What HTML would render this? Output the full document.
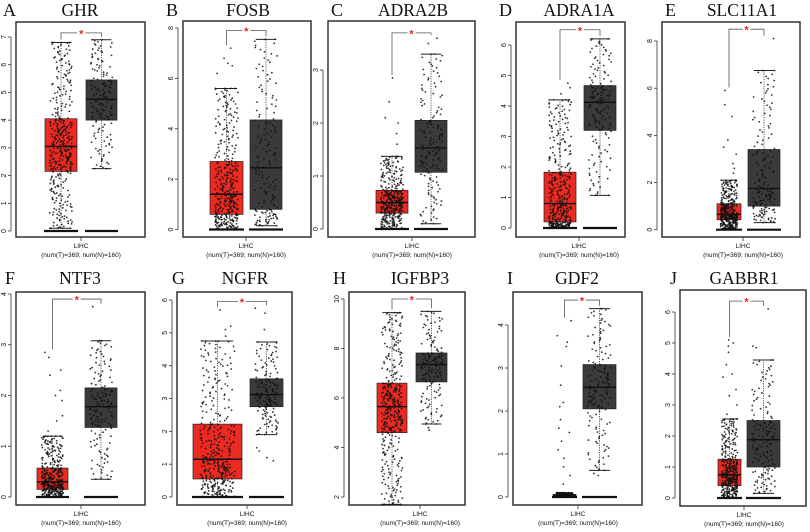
<!DOCTYPE html>
<html><head><meta charset="utf-8"><style>
body{margin:0;background:#fff}
svg{display:block}
</style></head><body>
<svg id="fig" width="810" height="532" viewBox="0 0 810 532" xmlns="http://www.w3.org/2000/svg"></svg>
<script>
// ---- data ----
const panelLetters = ["A","B","C","D","E","F","G","H","I","J"];
const geneNames = ["GHR","FOSB","ADRA2B","ADRA1A","SLC11A1","NTF3","NGFR","IGFBP3","GDF2","GABBR1"];
const tickValues = [[0,1,2,3,4,5,6,7],[0,2,4,6,8],[0,1,2,3],[0,1,2,3,4,5,6],[0,2,4,6,8],[0,1,2,3,4],[0,1,2,3,4,5,6],[2,4,6,8,10],[0,1,2,3,4],[0,1,2,3,4,5,6]];
// [whiskerLow, q1, median, q3, whiskerHigh]
const tumorStats = [[0.1,2.15,3.05,4.05,6.8],[0,0.6,1.4,2.7,5.6],[0,0.3,0.5,0.73,1.37],[0,0.2,0.8,1.83,4.2],[0.05,0.42,0.65,1.1,2.1],[0,0.15,0.3,0.57,1.2],[0,0.55,1.15,2.22,4.75],[1.7,4.6,5.65,6.6,9.45],[0,0.02,0.04,0.06,0.1],[0,0.4,0.75,1.25,2.55]];
const normalStats = [[2.25,4.0,4.75,5.45,6.9],[0.15,0.8,2.45,4.35,7.55],[0.1,1.07,1.53,2.05,3.3],[1.07,3.2,4.12,4.67,6.2],[0.3,1.0,1.75,3.4,6.75],[0.35,1.37,1.78,2.15,3.08],[1.9,2.75,3.12,3.6,4.72],[4.95,6.65,7.35,7.82,9.5],[0.62,2.05,2.55,3.08,4.38],[0.15,1.0,1.88,2.5,4.45]];
const tumorOutliers = [[],[6.2,6.5,6.6,6.8,7.2],[1.6,1.8,2.0,2.1,2.4,2.85],[4.4,4.6,4.75],[2.4,2.6,2.8,3.2,3.5,3.8,4.8,5.3,5.9],[1.3,1.5,1.6,1.9,2.0,2.1,2.4,2.5,2.75,2.85],[4.9,5.1,5.2,5.7],[],[0.3,0.5,0.7,0.9,1.1,1.3,1.5,1.6,1.8,2.1,2.2,2.6,3.05,3.5,3.6,3.75,4.1],[2.7,3.0,3.3,3.5,3.9,4.0,4.3,4.7,4.9,5.0,5.1]];
const normalOutliers = [[],[],[3.5,3.6],[],[8.1],[3.75],[1.1,1.2,1.4,1.5,5.1,5.6,5.75],[4.7,4.8],[0.5,0.55],[4.85,4.9,6.1]];
const hasZeroBar = [true,true,true,true,true,true,true,false,true,true];
const bracketLevel = [7.15,7.9,3.7,6.5,8.5,3.9,5.95,10.0,4.58,6.35];
const tumorCount = 369, normalCount = 160;
// ---- layout ----
const frames = [[16,22,145,237],[183,21,311,237],[328,21,475,237],[516,22,625,237],[662,22,800,237],[16,292,145,505],[177,292,292,505],[349,292,465,505],[513,292,642,505],[680,290,806,506]];
const tickPix = [[231,37],[229.5,28],[229,70],[228,45],[229.7,41],[497,294],[497,300],[497,299],[497,325],[498,312]];
const redBox = [[45,77],[210,243],[376,408],[544,576],[717,741],[37,68],[193,242],[377,407],[553,576],[718,741]];
const darkBox = [[86,117],[250,282],[415,447],[584,616],[748,780],[85,117],[250,283],[416,447],[583,616],[747,780]];
const letterX = [3,166,331,499,665,5,172,333,507,670];
const titleX = [80,248,413,579,742,80,245,420,577,744];
const centerTick = [81,246,412,579,743,81,247,420,578,744];

const NS="http://www.w3.org/2000/svg";
const svg=document.getElementById('fig');
function mk(tag,attrs,parent){const e=document.createElementNS(NS,tag);for(const k in attrs)e.setAttribute(k,attrs[k]);(parent||svg).appendChild(e);return e;}
function hash(i,s){const v=Math.sin(i*12.9898+s*78.233)*43758.5453;return v-Math.floor(v);}
function quant(st,u){const ks=[0.01,0.25,0.5,0.75,0.99];if(u<=ks[0])return st[0];if(u>=ks[4])return st[4];for(let k=0;k<4;k++){if(u<=ks[k+1]){const t=(u-ks[k])/(ks[k+1]-ks[k]);return st[k]+t*(st[k+1]-st[k]);}}return st[4];}

for(let p=0;p<10;p++){
  const g=mk('g',{});
  
  
  const [fx0,fy0,fx1,fy1]=frames[p];
  const tv=tickValues[p];const [pa,pb]=tickPix[p];
  const v0=tv[0],v1=tv[tv.length-1];
  const Y=v=>pa+(v-v0)*(pb-pa)/(v1-v0);
  const row2=p>=5;
  const lt=mk('text',{x:letterX[p],y:row2?284:16,'font-family':'Liberation Serif, serif','font-size':18,fill:'#111'},g);lt.textContent=panelLetters[p];
  
  const tt=mk('text',{x:titleX[p],y:row2?284:16,'font-family':'Liberation Serif, serif','font-size':17.5,fill:'#111','text-anchor':'middle'},g);tt.textContent=geneNames[p];
  
  const fr=mk('rect',{x:fx0,y:fy0,width:fx1-fx0,height:fy1-fy0,fill:'none',stroke:'#333','stroke-width':1.5},g);
  
  const ax=mk('line',{x1:fx0-5,x2:fx0-5,y1:Y(v0),y2:Y(v1),stroke:'#333','stroke-width':0.8},g);
  
  tv.forEach(v=>{
    mk('line',{x1:fx0-8,x2:fx0-5,y1:Y(v),y2:Y(v),stroke:'#333','stroke-width':0.8},g);
    const t=mk('text',{x:0,y:0,'font-family':'Liberation Sans, sans-serif','font-size':7,fill:'#111','text-anchor':'middle',transform:`translate(${fx0-10},${Y(v)}) rotate(-90)`},g);
    t.textContent=v;
  });
  mk('line',{x1:centerTick[p],x2:centerTick[p],y1:fy1,y2:fy1+4,stroke:'#333','stroke-width':0.8},g);
  const l1=mk('text',{x:centerTick[p],y:fy1+11,'font-family':'Liberation Sans, sans-serif','font-size':6.5,fill:'#111','text-anchor':'middle'},g);l1.textContent='LIHC';
  
  const l2=mk('text',{x:centerTick[p],y:fy1+20,'font-family':'Liberation Sans, sans-serif','font-size':6.5,fill:'#111','text-anchor':'middle'},g);l2.textContent='(num(T)=369; num(N)=160)';
  
  const groups=[[tumorStats[p],redBox[p],'#ec2a22',tumorOutliers[p],tumorCount,'tumor'],[normalStats[p],darkBox[p],'#3a3a3a',normalOutliers[p],normalCount,'normal']];
  const tops=[];
  groups.forEach(([st,bx,col,outs,n,nm],gi)=>{
    const cx=(bx[0]+bx[1])/2,w=bx[1]-bx[0];
    mk('line',{x1:cx,x2:cx,y1:Y(st[3]),y2:Y(st[4]),stroke:'#333','stroke-width':0.8,'stroke-dasharray':'1.2,1.2'},g);
    mk('line',{x1:cx,x2:cx,y1:Y(st[1]),y2:Y(st[0]),stroke:'#333','stroke-width':0.8,'stroke-dasharray':'1.2,1.2'},g);
    mk('line',{x1:cx-w*0.32,x2:cx+w*0.32,y1:Y(st[4]),y2:Y(st[4]),stroke:'#222','stroke-width':1},g);
    mk('line',{x1:cx-w*0.32,x2:cx+w*0.32,y1:Y(st[0]),y2:Y(st[0]),stroke:'#222','stroke-width':1},g);
    const r=mk('rect',{x:bx[0],y:Y(st[3]),width:w,height:Math.max(1,Y(st[1])-Y(st[3])),fill:col,stroke:'#222','stroke-width':0.7},g);
    
    mk('line',{x1:bx[0],x2:bx[1],y1:Y(st[2]),y2:Y(st[2]),stroke:'#111','stroke-width':1.4},g);
    if(hasZeroBar[p]){const z=mk('line',{x1:bx[0]-1,x2:bx[1]+1,y1:Y(0),y2:Y(0),stroke:'#111','stroke-width':2.2},g);
      }
    const pts=[];
    for(let i=0;i<n;i++){pts.push(quant(st,(i+0.5)/n));}
    outs.forEach(v=>pts.push(v));
    pts.forEach((v,i)=>{
      const jx=cx+(hash(i,p*7+gi)-0.5)*w*0.7;
      const c=mk('circle',{cx:jx,cy:Y(v),r:0.9,fill:'#111','fill-opacity':0.85},g);
      
      
    });
    tops.push([cx,Math.max(st[4],...(outs.length?outs:[st[4]]))]);
  });
  const by=Y(bracketLevel[p]);
  const br=mk('path',{d:`M${tops[0][0]},${Y(tops[0][1])-3} L${tops[0][0]},${by} L${tops[1][0]},${by} L${tops[1][0]},${Y(tops[1][1])-3}`,fill:'none',stroke:'#555','stroke-width':0.8},g);
  
  const sx=(tops[0][0]+tops[1][0])/2;
  mk('rect',{x:sx-4,y:by-1,width:8,height:2,fill:'#fff'},g);
  const star=mk('text',{x:sx,y:by+4.5,'font-family':'Liberation Sans, sans-serif','font-size':11,'font-weight':'bold',fill:'#e8251f','text-anchor':'middle'},g);
  star.textContent='*';
}
</script>
</body></html>
